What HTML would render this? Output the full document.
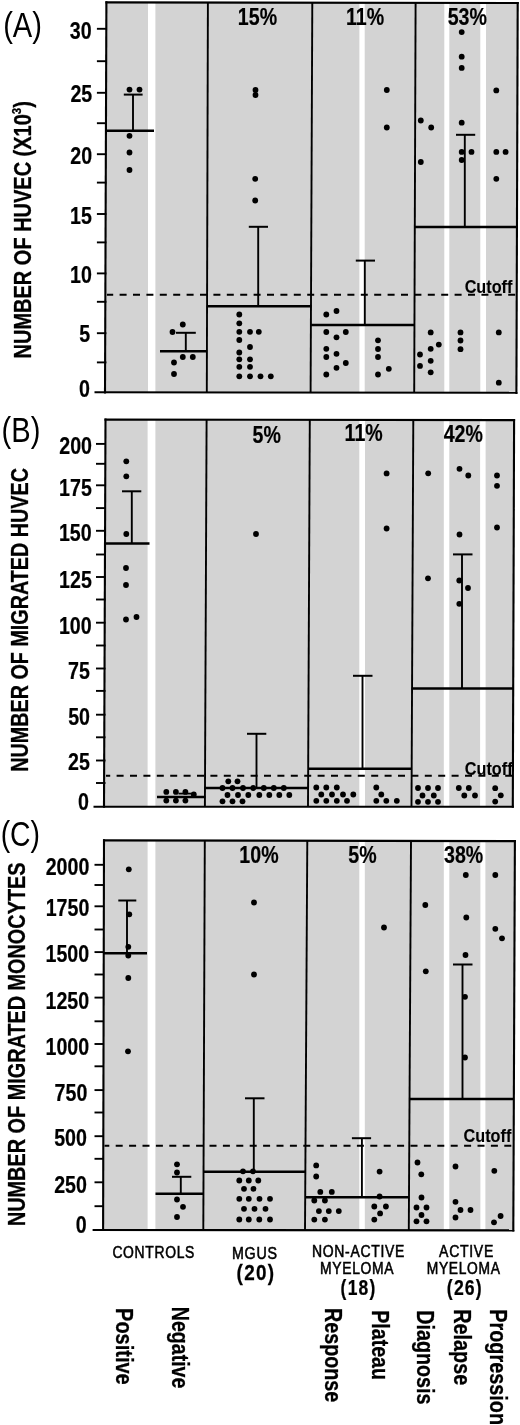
<!DOCTYPE html>
<html><head><meta charset="utf-8"><title>Figure</title>
<style>html,body{margin:0;padding:0;background:#fff;}svg{display:block;}</style>
</head><body>
<svg width="520" height="1425" viewBox="0 0 520 1425" font-family="'Liberation Sans', sans-serif">
<rect width="520" height="1425" fill="#fff"/>
<polygon points="106.4,2.4 517.7,3.0 516.4,392.8 105.0,392.3" fill="#d3d3d3"/>
<rect x="148.0" y="2.46" width="7.40" height="389.90" fill="#fff"/>
<rect x="359.4" y="2.77" width="5.30" height="389.85" fill="#fff"/>
<rect x="444.3" y="2.89" width="5.00" height="389.83" fill="#fff"/>
<rect x="480.3" y="2.95" width="5.70" height="389.82" fill="#fff"/>
<polygon points="105.5,419.6 514.1,420.1 512.8,806.7 104.0,806.7" fill="#d3d3d3"/>
<rect x="147.6" y="419.65" width="7.80" height="387.05" fill="#fff"/>
<rect x="359.3" y="419.91" width="5.70" height="386.79" fill="#fff"/>
<rect x="443.8" y="420.01" width="5.50" height="386.69" fill="#fff"/>
<rect x="480.1" y="420.06" width="5.50" height="386.64" fill="#fff"/>
<polygon points="104.0,840.4 514.9,841.1 513.3,1230.4 103.1,1230.0" fill="#d3d3d3"/>
<rect x="147.6" y="840.47" width="7.80" height="389.58" fill="#fff"/>
<rect x="359.3" y="840.83" width="5.50" height="389.42" fill="#fff"/>
<rect x="443.8" y="840.98" width="5.50" height="389.36" fill="#fff"/>
<rect x="480.4" y="841.04" width="5.00" height="389.33" fill="#fff"/>
<line x1="106.9" y1="294.7" x2="516.7" y2="294.7" stroke="#000" stroke-width="1.9" stroke-dasharray="7 6.4" stroke-dashoffset="0.70"/>
<line x1="106" y1="130.8" x2="154" y2="130.8" stroke="#000" stroke-width="2.5"/>
<line x1="133.0" y1="94.6" x2="133.0" y2="130.8" stroke="#000" stroke-width="1.9"/>
<line x1="123.8" y1="94.6" x2="142.6" y2="94.6" stroke="#000" stroke-width="2.0"/>
<line x1="160" y1="351.3" x2="207" y2="351.3" stroke="#000" stroke-width="2.5"/>
<line x1="185.8" y1="332.8" x2="185.8" y2="351.3" stroke="#000" stroke-width="1.9"/>
<line x1="176.0" y1="332.8" x2="195.8" y2="332.8" stroke="#000" stroke-width="2.0"/>
<line x1="207" y1="306.3" x2="311.5" y2="306.3" stroke="#000" stroke-width="2.5"/>
<line x1="258.2" y1="226.8" x2="258.2" y2="306.3" stroke="#000" stroke-width="1.9"/>
<line x1="248.8" y1="226.8" x2="268.0" y2="226.8" stroke="#000" stroke-width="2.0"/>
<line x1="311" y1="325.0" x2="415" y2="325.0" stroke="#000" stroke-width="2.5"/>
<line x1="364.8" y1="260.6" x2="364.8" y2="325.0" stroke="#000" stroke-width="1.9"/>
<line x1="355.8" y1="260.6" x2="375.0" y2="260.6" stroke="#000" stroke-width="2.0"/>
<line x1="415" y1="227.0" x2="517" y2="227.0" stroke="#000" stroke-width="2.5"/>
<line x1="464.8" y1="134.8" x2="464.8" y2="227.0" stroke="#000" stroke-width="1.9"/>
<line x1="456.0" y1="134.8" x2="475.2" y2="134.8" stroke="#000" stroke-width="2.0"/>
<circle cx="129.5" cy="89.6" r="2.9"/>
<circle cx="139.5" cy="89.6" r="2.9"/>
<circle cx="129.5" cy="135.8" r="2.9"/>
<circle cx="129.5" cy="152.5" r="2.9"/>
<circle cx="129.5" cy="170.0" r="2.9"/>
<circle cx="182.8" cy="324.5" r="2.9"/>
<circle cx="172.5" cy="332.0" r="2.9"/>
<circle cx="182.8" cy="357.0" r="2.9"/>
<circle cx="192.8" cy="357.0" r="2.9"/>
<circle cx="174.0" cy="362.5" r="2.9"/>
<circle cx="174.0" cy="374.0" r="2.9"/>
<circle cx="255.5" cy="90.0" r="2.9"/>
<circle cx="255.5" cy="95.0" r="2.9"/>
<circle cx="255.2" cy="178.8" r="2.9"/>
<circle cx="255.2" cy="200.5" r="2.9"/>
<circle cx="239.3" cy="314.5" r="2.9"/>
<circle cx="239.3" cy="323.3" r="2.9"/>
<circle cx="239.3" cy="331.8" r="2.9"/>
<circle cx="250.0" cy="331.8" r="2.9"/>
<circle cx="258.8" cy="331.8" r="2.9"/>
<circle cx="239.3" cy="340.0" r="2.9"/>
<circle cx="250.0" cy="347.0" r="2.9"/>
<circle cx="239.3" cy="352.5" r="2.9"/>
<circle cx="239.3" cy="359.3" r="2.9"/>
<circle cx="250.0" cy="359.3" r="2.9"/>
<circle cx="239.3" cy="366.8" r="2.9"/>
<circle cx="250.0" cy="366.8" r="2.9"/>
<circle cx="239.3" cy="376.3" r="2.9"/>
<circle cx="250.0" cy="376.3" r="2.9"/>
<circle cx="260.5" cy="376.3" r="2.9"/>
<circle cx="270.8" cy="376.3" r="2.9"/>
<circle cx="326.3" cy="314.5" r="2.9"/>
<circle cx="336.5" cy="311.0" r="2.9"/>
<circle cx="326.3" cy="332.0" r="2.9"/>
<circle cx="345.8" cy="332.0" r="2.9"/>
<circle cx="336.5" cy="337.3" r="2.9"/>
<circle cx="326.3" cy="348.8" r="2.9"/>
<circle cx="336.5" cy="353.8" r="2.9"/>
<circle cx="326.3" cy="357.0" r="2.9"/>
<circle cx="345.8" cy="363.0" r="2.9"/>
<circle cx="336.5" cy="367.8" r="2.9"/>
<circle cx="326.3" cy="374.5" r="2.9"/>
<circle cx="386.8" cy="90.0" r="2.9"/>
<circle cx="386.8" cy="127.5" r="2.9"/>
<circle cx="378.0" cy="340.3" r="2.9"/>
<circle cx="378.0" cy="349.0" r="2.9"/>
<circle cx="378.0" cy="357.0" r="2.9"/>
<circle cx="388.8" cy="368.8" r="2.9"/>
<circle cx="378.0" cy="374.5" r="2.9"/>
<circle cx="420.8" cy="120.5" r="2.9"/>
<circle cx="431.2" cy="127.5" r="2.9"/>
<circle cx="420.8" cy="162.0" r="2.9"/>
<circle cx="430.7" cy="332.4" r="2.9"/>
<circle cx="438.8" cy="344.6" r="2.9"/>
<circle cx="430.7" cy="348.8" r="2.9"/>
<circle cx="420.0" cy="354.5" r="2.9"/>
<circle cx="430.7" cy="360.8" r="2.9"/>
<circle cx="420.0" cy="365.9" r="2.9"/>
<circle cx="430.7" cy="372.3" r="2.9"/>
<circle cx="461.7" cy="32.1" r="2.9"/>
<circle cx="461.7" cy="56.7" r="2.9"/>
<circle cx="461.7" cy="67.9" r="2.9"/>
<circle cx="461.7" cy="122.7" r="2.9"/>
<circle cx="461.7" cy="151.9" r="2.9"/>
<circle cx="471.5" cy="151.9" r="2.9"/>
<circle cx="461.7" cy="160.0" r="2.9"/>
<circle cx="460.5" cy="332.4" r="2.9"/>
<circle cx="460.5" cy="340.5" r="2.9"/>
<circle cx="460.5" cy="349.2" r="2.9"/>
<circle cx="496.3" cy="90.4" r="2.9"/>
<circle cx="496.3" cy="151.9" r="2.9"/>
<circle cx="505.6" cy="151.9" r="2.9"/>
<circle cx="496.3" cy="178.8" r="2.9"/>
<circle cx="498.8" cy="332.4" r="2.9"/>
<circle cx="498.8" cy="382.7" r="2.9"/>
<line x1="106.0" y1="775.8" x2="513.1" y2="775.8" stroke="#000" stroke-width="1.9" stroke-dasharray="7 6.4" stroke-dashoffset="2.80"/>
<line x1="106" y1="543.6" x2="149.5" y2="543.6" stroke="#000" stroke-width="2.5"/>
<line x1="131.8" y1="491.3" x2="131.8" y2="543.6" stroke="#000" stroke-width="1.9"/>
<line x1="122.0" y1="491.3" x2="141.3" y2="491.3" stroke="#000" stroke-width="2.0"/>
<line x1="157" y1="796.9" x2="205.5" y2="796.9" stroke="#000" stroke-width="2.5"/>
<line x1="178.5" y1="793.6" x2="196.0" y2="793.6" stroke="#000" stroke-width="1.8"/>
<line x1="205" y1="788.0" x2="309" y2="788.0" stroke="#000" stroke-width="2.5"/>
<line x1="256.5" y1="733.8" x2="256.5" y2="788.0" stroke="#000" stroke-width="1.9"/>
<line x1="247.0" y1="733.8" x2="266.3" y2="733.8" stroke="#000" stroke-width="2.0"/>
<line x1="308.5" y1="768.8" x2="412" y2="768.8" stroke="#000" stroke-width="2.5"/>
<line x1="362.5" y1="675.8" x2="362.5" y2="768.8" stroke="#000" stroke-width="1.9"/>
<line x1="353.0" y1="675.8" x2="372.5" y2="675.8" stroke="#000" stroke-width="2.0"/>
<line x1="412" y1="688.6" x2="513.5" y2="688.6" stroke="#000" stroke-width="2.5"/>
<line x1="462.0" y1="554.4" x2="462.0" y2="688.6" stroke="#000" stroke-width="1.9"/>
<line x1="453.0" y1="554.4" x2="472.5" y2="554.4" stroke="#000" stroke-width="2.0"/>
<circle cx="126.3" cy="461.3" r="2.9"/>
<circle cx="126.3" cy="476.3" r="2.9"/>
<circle cx="126.3" cy="534.0" r="2.9"/>
<circle cx="126.0" cy="568.0" r="2.9"/>
<circle cx="126.0" cy="585.0" r="2.9"/>
<circle cx="126.0" cy="619.5" r="2.9"/>
<circle cx="136.5" cy="617.0" r="2.9"/>
<circle cx="166.3" cy="791.9" r="2.9"/>
<circle cx="175.9" cy="791.9" r="2.9"/>
<circle cx="185.4" cy="791.9" r="2.9"/>
<circle cx="166.3" cy="800.6" r="2.9"/>
<circle cx="175.9" cy="800.6" r="2.9"/>
<circle cx="185.4" cy="800.6" r="2.9"/>
<circle cx="193.8" cy="794.4" r="2.9"/>
<circle cx="256.0" cy="534.0" r="2.9"/>
<circle cx="228.3" cy="781.3" r="2.9"/>
<circle cx="237.5" cy="781.3" r="2.9"/>
<circle cx="222.5" cy="788.0" r="2.9"/>
<circle cx="232.5" cy="788.0" r="2.9"/>
<circle cx="243.0" cy="788.0" r="2.9"/>
<circle cx="253.3" cy="788.0" r="2.9"/>
<circle cx="263.8" cy="788.0" r="2.9"/>
<circle cx="273.8" cy="788.0" r="2.9"/>
<circle cx="283.8" cy="788.0" r="2.9"/>
<circle cx="227.5" cy="795.0" r="2.9"/>
<circle cx="238.0" cy="795.0" r="2.9"/>
<circle cx="248.3" cy="795.0" r="2.9"/>
<circle cx="259.3" cy="795.0" r="2.9"/>
<circle cx="269.3" cy="795.0" r="2.9"/>
<circle cx="279.3" cy="795.0" r="2.9"/>
<circle cx="289.3" cy="795.0" r="2.9"/>
<circle cx="222.5" cy="801.3" r="2.9"/>
<circle cx="232.5" cy="801.3" r="2.9"/>
<circle cx="242.5" cy="801.3" r="2.9"/>
<circle cx="316.3" cy="787.5" r="2.9"/>
<circle cx="326.3" cy="787.5" r="2.9"/>
<circle cx="336.8" cy="787.5" r="2.9"/>
<circle cx="321.3" cy="794.5" r="2.9"/>
<circle cx="332.0" cy="794.5" r="2.9"/>
<circle cx="343.0" cy="794.5" r="2.9"/>
<circle cx="353.3" cy="794.5" r="2.9"/>
<circle cx="316.3" cy="800.8" r="2.9"/>
<circle cx="326.3" cy="800.8" r="2.9"/>
<circle cx="336.8" cy="800.8" r="2.9"/>
<circle cx="347.0" cy="800.8" r="2.9"/>
<circle cx="386.6" cy="473.4" r="2.9"/>
<circle cx="386.6" cy="528.5" r="2.9"/>
<circle cx="376.3" cy="787.5" r="2.9"/>
<circle cx="381.3" cy="794.5" r="2.9"/>
<circle cx="376.3" cy="800.8" r="2.9"/>
<circle cx="386.3" cy="800.8" r="2.9"/>
<circle cx="396.8" cy="800.8" r="2.9"/>
<circle cx="428.2" cy="473.3" r="2.9"/>
<circle cx="428.0" cy="578.3" r="2.9"/>
<circle cx="418.0" cy="788.0" r="2.9"/>
<circle cx="428.0" cy="788.0" r="2.9"/>
<circle cx="438.0" cy="788.0" r="2.9"/>
<circle cx="422.5" cy="795.5" r="2.9"/>
<circle cx="433.8" cy="795.5" r="2.9"/>
<circle cx="418.0" cy="801.8" r="2.9"/>
<circle cx="428.0" cy="801.8" r="2.9"/>
<circle cx="438.0" cy="801.8" r="2.9"/>
<circle cx="459.5" cy="468.8" r="2.9"/>
<circle cx="468.3" cy="475.5" r="2.9"/>
<circle cx="459.5" cy="534.5" r="2.9"/>
<circle cx="459.3" cy="580.5" r="2.9"/>
<circle cx="468.0" cy="588.0" r="2.9"/>
<circle cx="459.3" cy="603.8" r="2.9"/>
<circle cx="458.8" cy="788.0" r="2.9"/>
<circle cx="468.8" cy="788.0" r="2.9"/>
<circle cx="464.3" cy="795.5" r="2.9"/>
<circle cx="475.0" cy="795.5" r="2.9"/>
<circle cx="497.0" cy="475.5" r="2.9"/>
<circle cx="497.0" cy="485.8" r="2.9"/>
<circle cx="497.0" cy="527.5" r="2.9"/>
<circle cx="495.2" cy="788.2" r="2.9"/>
<circle cx="500.8" cy="795.3" r="2.9"/>
<circle cx="495.2" cy="801.6" r="2.9"/>
<line x1="104.5" y1="1145.7" x2="513.9" y2="1145.7" stroke="#000" stroke-width="1.9" stroke-dasharray="7 6.4" stroke-dashoffset="2.20"/>
<line x1="104" y1="953.3" x2="147" y2="953.3" stroke="#000" stroke-width="2.5"/>
<line x1="127.0" y1="900.5" x2="127.0" y2="953.3" stroke="#000" stroke-width="1.9"/>
<line x1="118.3" y1="900.5" x2="136.3" y2="900.5" stroke="#000" stroke-width="2.0"/>
<line x1="155.5" y1="1193.8" x2="204" y2="1193.8" stroke="#000" stroke-width="2.5"/>
<line x1="180.8" y1="1176.8" x2="180.8" y2="1193.8" stroke="#000" stroke-width="1.9"/>
<line x1="172.0" y1="1176.8" x2="191.3" y2="1176.8" stroke="#000" stroke-width="2.0"/>
<line x1="204" y1="1171.8" x2="305.5" y2="1171.8" stroke="#000" stroke-width="2.5"/>
<line x1="253.8" y1="1098.3" x2="253.8" y2="1171.8" stroke="#000" stroke-width="1.9"/>
<line x1="245.0" y1="1098.3" x2="264.5" y2="1098.3" stroke="#000" stroke-width="2.0"/>
<line x1="305.5" y1="1197.2" x2="409" y2="1197.2" stroke="#000" stroke-width="2.5"/>
<line x1="361.9" y1="1138.2" x2="361.9" y2="1197.2" stroke="#000" stroke-width="1.9"/>
<line x1="351.9" y1="1138.2" x2="371.1" y2="1138.2" stroke="#000" stroke-width="2.0"/>
<line x1="409.5" y1="1099.0" x2="514" y2="1099.0" stroke="#000" stroke-width="2.5"/>
<line x1="462.5" y1="964.5" x2="462.5" y2="1099.0" stroke="#000" stroke-width="1.9"/>
<line x1="453.0" y1="964.5" x2="472.5" y2="964.5" stroke="#000" stroke-width="2.0"/>
<circle cx="128.8" cy="869.3" r="2.9"/>
<circle cx="129.3" cy="914.3" r="2.9"/>
<circle cx="128.3" cy="946.8" r="2.9"/>
<circle cx="128.3" cy="955.5" r="2.9"/>
<circle cx="128.3" cy="978.0" r="2.9"/>
<circle cx="128.0" cy="1051.3" r="2.9"/>
<circle cx="177.0" cy="1164.3" r="2.9"/>
<circle cx="177.0" cy="1172.5" r="2.9"/>
<circle cx="177.0" cy="1199.5" r="2.9"/>
<circle cx="183.0" cy="1206.8" r="2.9"/>
<circle cx="177.0" cy="1217.0" r="2.9"/>
<circle cx="254.0" cy="902.5" r="2.9"/>
<circle cx="254.0" cy="974.5" r="2.9"/>
<circle cx="243.0" cy="1171.3" r="2.9"/>
<circle cx="253.0" cy="1171.3" r="2.9"/>
<circle cx="239.3" cy="1180.5" r="2.9"/>
<circle cx="248.8" cy="1180.5" r="2.9"/>
<circle cx="258.3" cy="1180.5" r="2.9"/>
<circle cx="244.0" cy="1188.8" r="2.9"/>
<circle cx="253.5" cy="1188.8" r="2.9"/>
<circle cx="239.3" cy="1198.8" r="2.9"/>
<circle cx="248.8" cy="1198.8" r="2.9"/>
<circle cx="259.5" cy="1198.8" r="2.9"/>
<circle cx="270.0" cy="1198.8" r="2.9"/>
<circle cx="244.0" cy="1208.8" r="2.9"/>
<circle cx="254.5" cy="1208.8" r="2.9"/>
<circle cx="265.5" cy="1208.8" r="2.9"/>
<circle cx="239.3" cy="1219.5" r="2.9"/>
<circle cx="248.8" cy="1219.5" r="2.9"/>
<circle cx="259.3" cy="1219.5" r="2.9"/>
<circle cx="270.0" cy="1219.5" r="2.9"/>
<circle cx="316.2" cy="1165.4" r="2.9"/>
<circle cx="316.2" cy="1176.5" r="2.9"/>
<circle cx="320.3" cy="1191.9" r="2.9"/>
<circle cx="331.8" cy="1191.9" r="2.9"/>
<circle cx="314.3" cy="1200.5" r="2.9"/>
<circle cx="324.9" cy="1200.5" r="2.9"/>
<circle cx="318.9" cy="1211.1" r="2.9"/>
<circle cx="328.8" cy="1211.1" r="2.9"/>
<circle cx="338.8" cy="1211.1" r="2.9"/>
<circle cx="314.3" cy="1219.6" r="2.9"/>
<circle cx="324.9" cy="1219.6" r="2.9"/>
<circle cx="384.0" cy="927.5" r="2.9"/>
<circle cx="379.6" cy="1171.6" r="2.9"/>
<circle cx="379.6" cy="1196.5" r="2.9"/>
<circle cx="374.3" cy="1206.5" r="2.9"/>
<circle cx="385.9" cy="1206.5" r="2.9"/>
<circle cx="380.1" cy="1213.4" r="2.9"/>
<circle cx="374.3" cy="1219.6" r="2.9"/>
<circle cx="425.3" cy="905.0" r="2.9"/>
<circle cx="425.8" cy="971.3" r="2.9"/>
<circle cx="417.5" cy="1162.5" r="2.9"/>
<circle cx="421.3" cy="1174.3" r="2.9"/>
<circle cx="421.5" cy="1197.5" r="2.9"/>
<circle cx="416.5" cy="1207.5" r="2.9"/>
<circle cx="426.5" cy="1207.5" r="2.9"/>
<circle cx="421.5" cy="1215.0" r="2.9"/>
<circle cx="416.5" cy="1221.3" r="2.9"/>
<circle cx="426.5" cy="1221.3" r="2.9"/>
<circle cx="465.8" cy="875.0" r="2.9"/>
<circle cx="466.3" cy="917.5" r="2.9"/>
<circle cx="465.5" cy="955.0" r="2.9"/>
<circle cx="465.0" cy="996.8" r="2.9"/>
<circle cx="465.0" cy="1057.5" r="2.9"/>
<circle cx="455.5" cy="1166.5" r="2.9"/>
<circle cx="455.5" cy="1201.8" r="2.9"/>
<circle cx="460.5" cy="1210.0" r="2.9"/>
<circle cx="470.5" cy="1210.0" r="2.9"/>
<circle cx="455.5" cy="1217.5" r="2.9"/>
<circle cx="495.3" cy="875.0" r="2.9"/>
<circle cx="495.3" cy="928.8" r="2.9"/>
<circle cx="502.0" cy="938.3" r="2.9"/>
<circle cx="494.3" cy="1170.8" r="2.9"/>
<circle cx="500.6" cy="1216.0" r="2.9"/>
<circle cx="494.0" cy="1222.3" r="2.9"/>
<line x1="207.9" y1="2.548067104303428" x2="206.8" y2="392.42372386971317" stroke="#000" stroke-width="1.9"/>
<line x1="312.3" y1="2.70036469730124" x2="310.6" y2="392.5498784637822" stroke="#000" stroke-width="1.9"/>
<line x1="415.6" y1="2.851057622173596" x2="414.2" y2="392.6757899854157" stroke="#000" stroke-width="1.9"/>
<line x1="517.7" y1="1.9" x2="516.4" y2="393.90000000000003" stroke="#000" stroke-width="2.1"/>
<line x1="106.4" y1="1.2999999999999998" x2="105.0" y2="393.40000000000003" stroke="#000" stroke-width="2.1"/>
<line x1="105.4" y1="2.4" x2="518.7" y2="3.0" stroke="#000" stroke-width="2.1"/>
<line x1="94.5" y1="392.3" x2="517.4" y2="392.8" stroke="#000" stroke-width="2.1"/>
<line x1="206.6" y1="419.72371512481647" x2="204.9" y2="806.7" stroke="#000" stroke-width="1.9"/>
<line x1="309.8" y1="419.85" x2="308.0" y2="806.7" stroke="#000" stroke-width="1.9"/>
<line x1="413.3" y1="419.9766519823789" x2="411.5" y2="806.7" stroke="#000" stroke-width="1.9"/>
<line x1="514.1" y1="419.0" x2="512.8" y2="807.8000000000001" stroke="#000" stroke-width="2.1"/>
<line x1="105.5" y1="418.5" x2="104.0" y2="807.8000000000001" stroke="#000" stroke-width="2.1"/>
<line x1="104.5" y1="419.6" x2="515.1" y2="420.1" stroke="#000" stroke-width="2.1"/>
<line x1="93.5" y1="806.7" x2="513.8" y2="806.7" stroke="#000" stroke-width="2.1"/>
<line x1="204.8" y1="840.5717206132879" x2="203.3" y2="1230.09770843491" stroke="#000" stroke-width="1.9"/>
<line x1="307.3" y1="840.7463373083475" x2="305.0" y2="1230.196879570941" stroke="#000" stroke-width="1.9"/>
<line x1="411.0" y1="840.9229982964225" x2="408.8" y2="1230.2980984885423" stroke="#000" stroke-width="1.9"/>
<line x1="514.9" y1="840.0" x2="513.3" y2="1231.5" stroke="#000" stroke-width="2.1"/>
<line x1="104.0" y1="839.3" x2="103.1" y2="1231.1" stroke="#000" stroke-width="2.1"/>
<line x1="103.0" y1="840.4" x2="515.9" y2="841.1" stroke="#000" stroke-width="2.1"/>
<line x1="92.6" y1="1230.0" x2="514.3" y2="1230.4" stroke="#000" stroke-width="2.1"/>
<line x1="96.9" y1="28.8" x2="106.4" y2="28.8" stroke="#000" stroke-width="1.9"/>
<line x1="96.9" y1="61.2" x2="106.4" y2="61.2" stroke="#000" stroke-width="1.9"/>
<line x1="96.9" y1="92.8" x2="106.4" y2="92.8" stroke="#000" stroke-width="1.9"/>
<line x1="96.9" y1="123.2" x2="106.4" y2="123.2" stroke="#000" stroke-width="1.9"/>
<line x1="96.9" y1="154.2" x2="106.4" y2="154.2" stroke="#000" stroke-width="1.9"/>
<line x1="96.9" y1="182.6" x2="106.4" y2="182.6" stroke="#000" stroke-width="1.9"/>
<line x1="96.9" y1="214.0" x2="106.4" y2="214.0" stroke="#000" stroke-width="1.9"/>
<line x1="96.9" y1="242.4" x2="106.4" y2="242.4" stroke="#000" stroke-width="1.9"/>
<line x1="96.9" y1="273.4" x2="106.4" y2="273.4" stroke="#000" stroke-width="1.9"/>
<line x1="96.9" y1="301.8" x2="106.4" y2="301.8" stroke="#000" stroke-width="1.9"/>
<line x1="96.9" y1="333.2" x2="106.4" y2="333.2" stroke="#000" stroke-width="1.9"/>
<line x1="96.9" y1="362.4" x2="106.4" y2="362.4" stroke="#000" stroke-width="1.9"/>
<text transform="translate(69.79 39.22) scale(0.85 1)" font-size="23.1" font-weight="bold" stroke="#000" stroke-width="0.2">30</text>
<text transform="translate(70.39 101.62) scale(0.85 1)" font-size="23.1" font-weight="bold" stroke="#000" stroke-width="0.2">25</text>
<text transform="translate(70.29 163.97) scale(0.85 1)" font-size="23.1" font-weight="bold" stroke="#000" stroke-width="0.2">20</text>
<text transform="translate(70.09 224.25) scale(0.85 1)" font-size="23.1" font-weight="bold" stroke="#000" stroke-width="0.2">15</text>
<text transform="translate(69.99 283.37) scale(0.85 1)" font-size="23.1" font-weight="bold" stroke="#000" stroke-width="0.2">10</text>
<text transform="translate(79.19 342.25) scale(0.85 1)" font-size="23.1" font-weight="bold" stroke="#000" stroke-width="0.2">5</text>
<text transform="translate(79.09 397.22) scale(0.85 1)" font-size="23.1" font-weight="bold" stroke="#000" stroke-width="0.2">0</text>
<line x1="96.0" y1="443.9" x2="105.5" y2="443.9" stroke="#000" stroke-width="1.9"/>
<line x1="96.0" y1="463.8" x2="105.5" y2="463.8" stroke="#000" stroke-width="1.9"/>
<line x1="96.0" y1="485.3" x2="105.5" y2="485.3" stroke="#000" stroke-width="1.9"/>
<line x1="96.0" y1="508.1" x2="105.5" y2="508.1" stroke="#000" stroke-width="1.9"/>
<line x1="96.0" y1="530.8" x2="105.5" y2="530.8" stroke="#000" stroke-width="1.9"/>
<line x1="96.0" y1="554.5" x2="105.5" y2="554.5" stroke="#000" stroke-width="1.9"/>
<line x1="96.0" y1="577.0" x2="105.5" y2="577.0" stroke="#000" stroke-width="1.9"/>
<line x1="96.0" y1="599.5" x2="105.5" y2="599.5" stroke="#000" stroke-width="1.9"/>
<line x1="96.0" y1="622.7" x2="105.5" y2="622.7" stroke="#000" stroke-width="1.9"/>
<line x1="96.0" y1="645.5" x2="105.5" y2="645.5" stroke="#000" stroke-width="1.9"/>
<line x1="96.0" y1="668.5" x2="105.5" y2="668.5" stroke="#000" stroke-width="1.9"/>
<line x1="96.0" y1="690.9" x2="105.5" y2="690.9" stroke="#000" stroke-width="1.9"/>
<line x1="96.0" y1="714.7" x2="105.5" y2="714.7" stroke="#000" stroke-width="1.9"/>
<line x1="96.0" y1="737.3" x2="105.5" y2="737.3" stroke="#000" stroke-width="1.9"/>
<line x1="96.0" y1="760.5" x2="105.5" y2="760.5" stroke="#000" stroke-width="1.9"/>
<line x1="96.0" y1="783.0" x2="105.5" y2="783.0" stroke="#000" stroke-width="1.9"/>
<text transform="translate(59.29 454.47) scale(0.85 1)" font-size="23.1" font-weight="bold" stroke="#000" stroke-width="0.2">200</text>
<text transform="translate(59.10 495.75) scale(0.85 1)" font-size="23.1" font-weight="bold" stroke="#000" stroke-width="0.2">175</text>
<text transform="translate(58.89 541.07) scale(0.85 1)" font-size="23.1" font-weight="bold" stroke="#000" stroke-width="0.2">150</text>
<text transform="translate(59.10 587.67) scale(0.85 1)" font-size="23.1" font-weight="bold" stroke="#000" stroke-width="0.2">125</text>
<text transform="translate(58.89 633.77) scale(0.85 1)" font-size="23.1" font-weight="bold" stroke="#000" stroke-width="0.2">100</text>
<text transform="translate(67.99 679.45) scale(0.85 1)" font-size="23.1" font-weight="bold" stroke="#000" stroke-width="0.2">75</text>
<text transform="translate(68.19 724.97) scale(0.85 1)" font-size="23.1" font-weight="bold" stroke="#000" stroke-width="0.2">50</text>
<text transform="translate(67.99 770.47) scale(0.85 1)" font-size="23.1" font-weight="bold" stroke="#000" stroke-width="0.2">25</text>
<text transform="translate(78.09 809.97) scale(0.85 1)" font-size="23.1" font-weight="bold" stroke="#000" stroke-width="0.2">0</text>
<line x1="94.5" y1="864.8" x2="104.0" y2="864.8" stroke="#000" stroke-width="1.9"/>
<line x1="94.5" y1="885.0" x2="104.0" y2="885.0" stroke="#000" stroke-width="1.9"/>
<line x1="94.5" y1="906.3" x2="104.0" y2="906.3" stroke="#000" stroke-width="1.9"/>
<line x1="94.5" y1="929.5" x2="104.0" y2="929.5" stroke="#000" stroke-width="1.9"/>
<line x1="94.5" y1="952.1" x2="104.0" y2="952.1" stroke="#000" stroke-width="1.9"/>
<line x1="94.5" y1="974.5" x2="104.0" y2="974.5" stroke="#000" stroke-width="1.9"/>
<line x1="94.5" y1="997.6" x2="104.0" y2="997.6" stroke="#000" stroke-width="1.9"/>
<line x1="94.5" y1="1021.3" x2="104.0" y2="1021.3" stroke="#000" stroke-width="1.9"/>
<line x1="94.5" y1="1044.0" x2="104.0" y2="1044.0" stroke="#000" stroke-width="1.9"/>
<line x1="94.5" y1="1066.3" x2="104.0" y2="1066.3" stroke="#000" stroke-width="1.9"/>
<line x1="94.5" y1="1090.1" x2="104.0" y2="1090.1" stroke="#000" stroke-width="1.9"/>
<line x1="94.5" y1="1112.5" x2="104.0" y2="1112.5" stroke="#000" stroke-width="1.9"/>
<line x1="94.5" y1="1136.2" x2="104.0" y2="1136.2" stroke="#000" stroke-width="1.9"/>
<line x1="94.5" y1="1158.8" x2="104.0" y2="1158.8" stroke="#000" stroke-width="1.9"/>
<line x1="94.5" y1="1182.3" x2="104.0" y2="1182.3" stroke="#000" stroke-width="1.9"/>
<line x1="94.5" y1="1206.2" x2="104.0" y2="1206.2" stroke="#000" stroke-width="1.9"/>
<text transform="translate(45.70 874.97) scale(0.85 1)" font-size="23.1" font-weight="bold" stroke="#000" stroke-width="0.2">2000</text>
<text transform="translate(45.70 916.47) scale(0.85 1)" font-size="23.1" font-weight="bold" stroke="#000" stroke-width="0.2">1750</text>
<text transform="translate(45.50 962.27) scale(0.85 1)" font-size="23.1" font-weight="bold" stroke="#000" stroke-width="0.2">1500</text>
<text transform="translate(45.50 1008.87) scale(0.85 1)" font-size="23.1" font-weight="bold" stroke="#000" stroke-width="0.2">1250</text>
<text transform="translate(45.50 1055.37) scale(0.85 1)" font-size="23.1" font-weight="bold" stroke="#000" stroke-width="0.2">1000</text>
<text transform="translate(54.59 1101.27) scale(0.85 1)" font-size="23.1" font-weight="bold" stroke="#000" stroke-width="0.2">750</text>
<text transform="translate(54.19 1146.17) scale(0.85 1)" font-size="23.1" font-weight="bold" stroke="#000" stroke-width="0.2">500</text>
<text transform="translate(54.19 1192.77) scale(0.85 1)" font-size="23.1" font-weight="bold" stroke="#000" stroke-width="0.2">250</text>
<text transform="translate(75.79 1232.97) scale(0.85 1)" font-size="23.1" font-weight="bold" stroke="#000" stroke-width="0.2">0</text>
<text transform="translate(237.86 25.33) scale(0.79 1)" font-size="24.8" font-weight="bold" stroke="#000" stroke-width="0.2">15%</text>
<text transform="translate(346.00 24.93) scale(0.79 1)" font-size="24.8" font-weight="bold" stroke="#000" stroke-width="0.2">11%</text>
<text transform="translate(447.66 25.46) scale(0.79 1)" font-size="24.8" font-weight="bold" stroke="#000" stroke-width="0.2">53%</text>
<text transform="translate(252.55 442.83) scale(0.79 1)" font-size="24.8" font-weight="bold" stroke="#000" stroke-width="0.2">5%</text>
<text transform="translate(344.60 441.43) scale(0.79 1)" font-size="24.8" font-weight="bold" stroke="#000" stroke-width="0.2">11%</text>
<text transform="translate(443.71 441.86) scale(0.79 1)" font-size="24.8" font-weight="bold" stroke="#000" stroke-width="0.2">42%</text>
<text transform="translate(239.36 862.56) scale(0.79 1)" font-size="24.8" font-weight="bold" stroke="#000" stroke-width="0.2">10%</text>
<text transform="translate(348.30 863.23) scale(0.79 1)" font-size="24.8" font-weight="bold" stroke="#000" stroke-width="0.2">5%</text>
<text transform="translate(444.01 862.86) scale(0.79 1)" font-size="24.8" font-weight="bold" stroke="#000" stroke-width="0.2">38%</text>
<text transform="translate(464.65 292.52) scale(0.864 1)" font-size="18.8" font-weight="bold" stroke="#000" stroke-width="0.1">Cutoff</text>
<text transform="translate(464.80 775.27) scale(0.864 1)" font-size="18.8" font-weight="bold" stroke="#000" stroke-width="0.1">Cutoff</text>
<text transform="translate(463.55 1142.17) scale(0.864 1)" font-size="18.8" font-weight="bold" stroke="#000" stroke-width="0.1">Cutoff</text>
<text transform="translate(3.14 36.93) scale(0.82 1)" font-size="35.5" font-weight="normal">(A)</text>
<text transform="translate(1.59 441.63) scale(0.82 1)" font-size="35.5" font-weight="normal">(B)</text>
<text transform="translate(0.66 846.23) scale(0.8 1)" font-size="35.5" font-weight="normal">(C)</text>
<text transform="translate(30.70 358.39) rotate(-90) scale(0.851 1)" font-size="23.5" font-weight="bold" stroke="#000" stroke-width="0.3">NUMBER OF HUVEC (X10<tspan font-size="13.4" dy="-9.9">3</tspan><tspan dy="9.9">)</tspan></text>
<text transform="translate(28.10 771.73) rotate(-90) scale(0.841 1)" font-size="23.5" font-weight="bold" stroke="#000" stroke-width="0.3">NUMBER OF MIGRATED HUVEC</text>
<text transform="translate(24.90 1226.09) rotate(-90) scale(0.845 1)" font-size="23.5" font-weight="bold" stroke="#000" stroke-width="0.3">NUMBER OF MIGRATED MONOCYTES</text>
<text transform="translate(112.41 1258.42) scale(0.853 1)" font-size="16.3" font-weight="normal" stroke="#000" stroke-width="0.55" letter-spacing="0.8">CONTROLS</text>
<text transform="translate(232.02 1258.72) scale(0.876 1)" font-size="16.3" font-weight="normal" stroke="#000" stroke-width="0.55" letter-spacing="0.8">MGUS</text>
<text transform="translate(311.96 1257.02) scale(0.858 1)" font-size="16.3" font-weight="normal" stroke="#000" stroke-width="0.55" letter-spacing="0.8">NON-ACTIVE</text>
<text transform="translate(320.09 1273.92) scale(0.853 1)" font-size="16.3" font-weight="normal" stroke="#000" stroke-width="0.55" letter-spacing="0.8">MYELOMA</text>
<text transform="translate(439.06 1257.02) scale(0.863 1)" font-size="16.3" font-weight="normal" stroke="#000" stroke-width="0.55" letter-spacing="0.8">ACTIVE</text>
<text transform="translate(426.71 1273.72) scale(0.849 1)" font-size="16.3" font-weight="normal" stroke="#000" stroke-width="0.55" letter-spacing="0.8">MYELOMA</text>
<text transform="translate(236.55 1280.42) scale(0.859 1)" font-size="22.0" font-weight="bold" stroke="#000" stroke-width="0.25" letter-spacing="1.5">(20)</text>
<text transform="translate(340.62 1294.72) scale(0.794 1)" font-size="22.0" font-weight="bold" stroke="#000" stroke-width="0.25" letter-spacing="1.5">(18)</text>
<text transform="translate(446.81 1294.72) scale(0.801 1)" font-size="22.0" font-weight="bold" stroke="#000" stroke-width="0.25" letter-spacing="1.5">(26)</text>
<text transform="translate(115.60 1308.10) rotate(90) scale(0.85 1)" font-size="23.5" font-weight="bold" stroke="#000" stroke-width="0.3">Positive</text>
<text transform="translate(172.20 1306.83) rotate(90) scale(0.833 1)" font-size="23.5" font-weight="bold" stroke="#000" stroke-width="0.3">Negative</text>
<text transform="translate(325.40 1308.12) rotate(90) scale(0.838 1)" font-size="23.5" font-weight="bold" stroke="#000" stroke-width="0.3">Response</text>
<text transform="translate(371.90 1310.23) rotate(90) scale(0.835 1)" font-size="23.5" font-weight="bold" stroke="#000" stroke-width="0.3">Plateau</text>
<text transform="translate(417.40 1310.22) rotate(90) scale(0.839 1)" font-size="23.5" font-weight="bold" stroke="#000" stroke-width="0.3">Diagnosis</text>
<text transform="translate(454.40 1309.21) rotate(90) scale(0.844 1)" font-size="23.5" font-weight="bold" stroke="#000" stroke-width="0.3">Relapse</text>
<text transform="translate(490.40 1309.21) rotate(90) scale(0.845 1)" font-size="23.5" font-weight="bold" stroke="#000" stroke-width="0.3">Progression</text>
</svg>
</body></html>
